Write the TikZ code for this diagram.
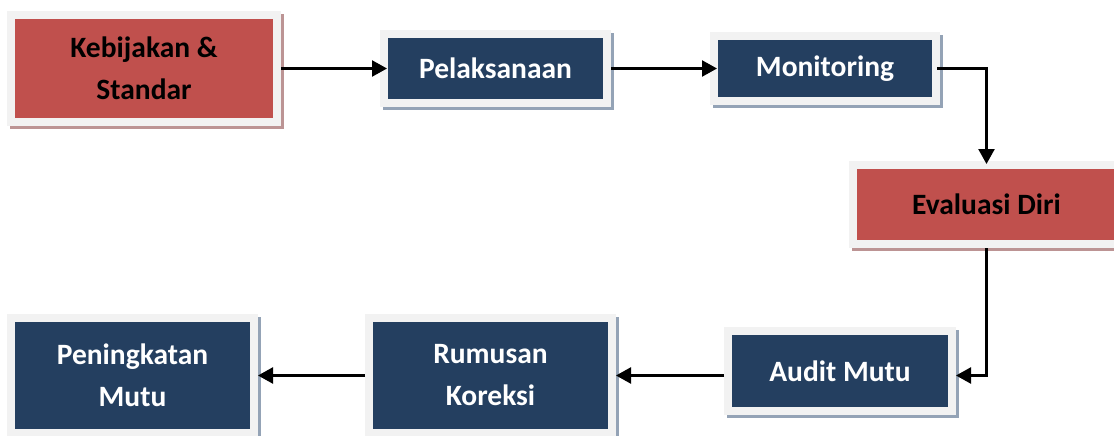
\documentclass[tikz,border=0pt]{standalone}
\usepackage{fontspec}
\setmainfont{Carlito}
\usepackage{tikz}
\usetikzlibrary{arrows.meta, positioning, shadows, calc}
\definecolor{boxred}{HTML}{C0504D}
\definecolor{boxblue}{HTML}{243F60}
\definecolor{framegray}{HTML}{F2F2F2}
\definecolor{shadowred}{HTML}{BC9494}
\definecolor{shadowblue}{HTML}{94A3B6}
\tikzset{
  boxbase/.style={rectangle, fill=framegray, outer sep=0pt, inner sep=0pt, align=center,
    font=\fontsize{29.5}{42}\selectfont\bfseries}, % light frame round every box
  redbox/.style={boxbase, text=black,
    drop shadow={shadow xshift=3pt, shadow yshift=-3pt, fill=shadowred, opacity=1},
    path picture={\fill[boxred] ([shift={(8pt,8pt)}]path picture bounding box.south west)
      rectangle ([shift={(-8pt,-8pt)}]path picture bounding box.north east);}},
  bluebox/.style={boxbase, text=white,
    drop shadow={shadow xshift=3pt, shadow yshift=-3pt, fill=shadowblue, opacity=1},
    path picture={\fill[boxblue] ([shift={(8pt,8pt)}]path picture bounding box.south west)
      rectangle ([shift={(-8pt,-8pt)}]path picture bounding box.north east);}},
  flow/.style={draw, line width=2.4pt, -{Triangle[length=15pt,width=16pt]}}
}

\begin{document}
\begin{tikzpicture}[x=1pt, y=-1pt]
    \useasboundingbox (0,0) rectangle (1114,436);

    % Nodes
    \node [redbox, minimum width=274pt, minimum height=115pt] (kebijakan) at (144,68.5) {Kebijakan \&\\Standar};
    \node [bluebox, minimum width=231pt, minimum height=77pt, right = 99pt of kebijakan] (pelaksanaan) {Pelaksanaan};
    \node [bluebox, minimum width=230pt, minimum height=73pt, right = 99pt of pelaksanaan] (monitoring) {Monitoring};
    \node [redbox, minimum width=275pt, minimum height=87pt] (evaluasi) at (986.5,204.5) {Evaluasi Diri};
    \node [bluebox, minimum width=232pt, minimum height=88pt] (audit) at (840,371) {Audit Mutu};
    \node [bluebox, minimum width=251pt, minimum height=123pt] (rumusan) at (490.5,375.5) {Rumusan\\Koreksi};
    \node [bluebox, minimum width=251pt, minimum height=123pt, left = 107pt of rumusan] (peningkatan) {Peningkatan\\Mutu};

    % Edges
    \draw [flow, shorten >=-7pt] (kebijakan) -- (pelaksanaan);
    \draw [flow, shorten >=-7pt] (pelaksanaan) -- (monitoring);
    \draw [flow, shorten <=-3pt, shorten >=-3pt] (monitoring.east) -| (evaluasi.north);
    \draw [flow] (evaluasi.south) |- (audit.east |- rumusan.center);
    \draw [flow] (audit.west |- rumusan.center) -- (rumusan.east);
    \draw [flow] (rumusan) -- (peningkatan);

\end{tikzpicture}
\end{document}
